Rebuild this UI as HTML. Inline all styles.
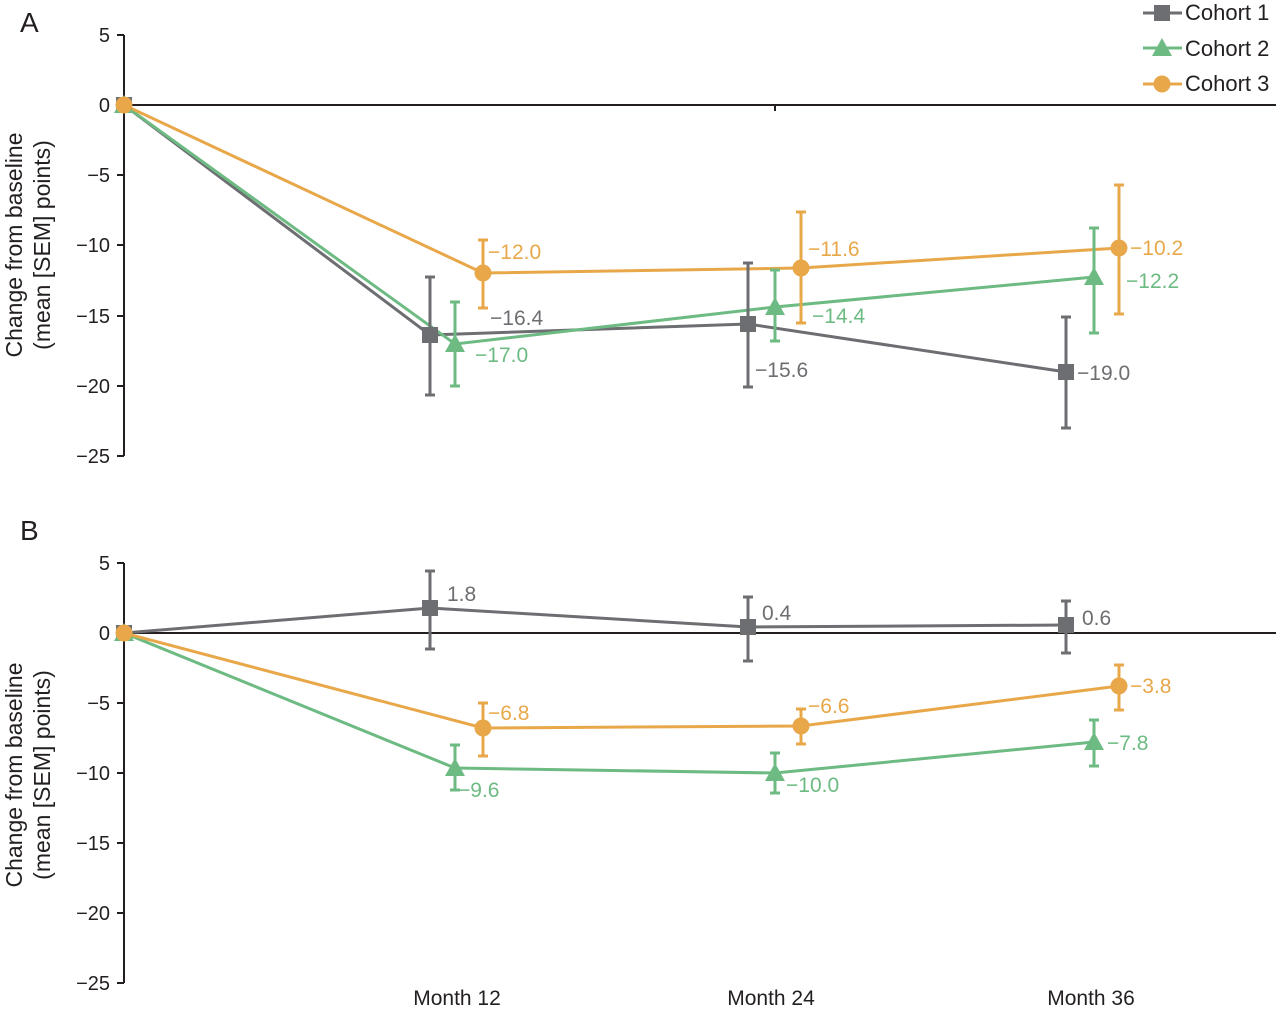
<!DOCTYPE html>
<html><head><style>body{margin:0;background:#fff}svg{font-family:"Liberation Sans",sans-serif}</style></head><body>
<svg width="1280" height="1008" viewBox="0 0 1280 1008" xmlns="http://www.w3.org/2000/svg">
<g stroke="#231f20" stroke-width="2" fill="none">
<line x1="124" y1="35" x2="124" y2="456"/><line x1="124" y1="105" x2="1276" y2="105"/>
<line x1="775" y1="105" x2="775" y2="111"/>
<line x1="117" y1="35" x2="124" y2="35"/><line x1="117" y1="105" x2="124" y2="105"/><line x1="117" y1="175" x2="124" y2="175"/><line x1="117" y1="245" x2="124" y2="245"/><line x1="117" y1="316" x2="124" y2="316"/><line x1="117" y1="386" x2="124" y2="386"/><line x1="117" y1="456" x2="124" y2="456"/>
<line x1="124" y1="563" x2="124" y2="983"/><line x1="124" y1="633" x2="1276" y2="633"/>
<line x1="117" y1="563" x2="124" y2="563"/><line x1="117" y1="633" x2="124" y2="633"/><line x1="117" y1="703" x2="124" y2="703"/><line x1="117" y1="773" x2="124" y2="773"/><line x1="117" y1="843" x2="124" y2="843"/><line x1="117" y1="913" x2="124" y2="913"/><line x1="117" y1="983" x2="124" y2="983"/>
</g>
<g font-size="20" fill="#231f20" text-anchor="end">
<text x="110" y="42">5</text><text x="110" y="112">0</text><text x="110" y="182">−5</text><text x="110" y="252">−10</text><text x="110" y="323">−15</text><text x="110" y="393">−20</text><text x="110" y="463">−25</text>
<text x="110" y="570">5</text><text x="110" y="640">0</text><text x="110" y="710">−5</text><text x="110" y="780">−10</text><text x="110" y="850">−15</text><text x="110" y="920">−20</text><text x="110" y="990">−25</text>
</g>
<g font-size="21" fill="#231f20" text-anchor="middle">
<text x="457" y="1005">Month 12</text><text x="771" y="1005">Month 24</text><text x="1091" y="1005">Month 36</text>
</g>
<g font-size="23" fill="#231f20" text-anchor="middle">
<text transform="translate(22,245) rotate(-90)">Change from baseline</text><text transform="translate(50,245) rotate(-90)">(mean [SEM] points)</text>
<text transform="translate(22,775) rotate(-90)">Change from baseline</text><text transform="translate(50,775) rotate(-90)">(mean [SEM] points)</text>
</g>
<text x="20" y="32" font-size="28" fill="#231f20">A</text><text x="20" y="540" font-size="28" fill="#231f20">B</text>
<defs>
<g id="sq"><rect x="-8" y="-8" width="16" height="16" fill="#6d6e71"/></g>
<g id="tr"><polygon points="0,-10 10,8 -10,8" fill="#6dbb82"/></g>
<g id="ci"><circle r="8.5" fill="#e8a84a"/></g>
</defs>
<g stroke-width="3" fill="none">
<polyline stroke="#6d6e71" points="124,105 430,335 748,324 1066,372"/>
<polyline stroke="#6dbb82" points="124,105 455,344 775,307 1094,277"/>
<polyline stroke="#e8a84a" points="124,105 483,273 801,268 1119,248"/>
<g stroke="#6d6e71"><path d="M430 277V395M425 277h10M425 395h10M748 263V387M743 263h10M743 387h10M1066 317V428M1061 317h10M1061 428h10"/></g>
<g stroke="#6dbb82"><path d="M455 302V386M450 302h10M450 386h10M775 270V341M770 270h10M770 341h10M1094 228V333M1089 228h10M1089 333h10"/></g>
<g stroke="#e8a84a"><path d="M483 240V308M478 240h10M478 308h10M801 212V323M796 212h10M796 323h10M1119 185V314M1114 185h10M1114 314h10"/></g>
<g stroke="#6d6e71"><path d="M430 571V649M425 571h10M425 649h10M748 597V661M743 597h10M743 661h10M1066 601V653M1061 601h10M1061 653h10"/></g>
<g stroke="#6dbb82"><path d="M455 745V790M450 745h10M450 790h10M775 753V793M770 753h10M770 793h10M1094 720V766M1089 720h10M1089 766h10"/></g>
<g stroke="#e8a84a"><path d="M483 703V756M478 703h10M478 756h10M801 709V744M796 709h10M796 744h10M1119 665V710M1114 665h10M1114 710h10"/></g>
<polyline stroke="#6d6e71" points="124,633 430,608 748,627 1066,625"/>
<polyline stroke="#6dbb82" points="124,633 455,768 775,773 1094,742"/>
<polyline stroke="#e8a84a" points="124,633 483,728 801,726 1119,686"/>
</g>
<use href="#sq" x="124" y="105"/><use href="#sq" x="430" y="335"/><use href="#sq" x="748" y="324"/><use href="#sq" x="1066" y="372"/>
<use href="#tr" x="124" y="105"/><use href="#tr" x="455" y="344"/><use href="#tr" x="775" y="307"/><use href="#tr" x="1094" y="277"/>
<use href="#ci" x="124" y="105"/><use href="#ci" x="483" y="273"/><use href="#ci" x="801" y="268"/><use href="#ci" x="1119" y="248"/>
<use href="#sq" x="124" y="633"/><use href="#sq" x="430" y="608"/><use href="#sq" x="748" y="627"/><use href="#sq" x="1066" y="625"/>
<use href="#tr" x="124" y="633"/><use href="#tr" x="455" y="768"/><use href="#tr" x="775" y="773"/><use href="#tr" x="1094" y="742"/>
<use href="#ci" x="124" y="633"/><use href="#ci" x="483" y="728"/><use href="#ci" x="801" y="726"/><use href="#ci" x="1119" y="686"/>
<g font-size="21">
<g fill="#e8a84a"><text x="488" y="259">−12.0</text><text x="808" y="256">−11.6</text><text x="1130" y="255">−10.2</text><text x="488" y="720">−6.8</text><text x="808" y="713">−6.6</text><text x="1130" y="693">−3.8</text></g>
<g fill="#6d6e71"><text x="490" y="325">−16.4</text><text x="755" y="377">−15.6</text><text x="1077" y="380">−19.0</text><text x="447" y="601">1.8</text><text x="762" y="620">0.4</text><text x="1082" y="625">0.6</text></g>
<g fill="#6dbb82"><text x="475" y="362">−17.0</text><text x="812" y="323">−14.4</text><text x="1126" y="288">−12.2</text><text x="458" y="797">−9.6</text><text x="786" y="792">−10.0</text><text x="1107" y="750">−7.8</text></g>
</g>
<g stroke-width="3"><line x1="1143" y1="13" x2="1182" y2="13" stroke="#6d6e71"/><line x1="1143" y1="48" x2="1182" y2="48" stroke="#6dbb82"/><line x1="1143" y1="84" x2="1182" y2="84" stroke="#e8a84a"/></g>
<use href="#sq" x="1162" y="13"/><use href="#tr" x="1162" y="48"/><use href="#ci" x="1162" y="84"/>
<g font-size="22" fill="#231f20"><text x="1185" y="20">Cohort 1</text><text x="1185" y="56">Cohort 2</text><text x="1185" y="91">Cohort 3</text></g>
</svg>
</body></html>
